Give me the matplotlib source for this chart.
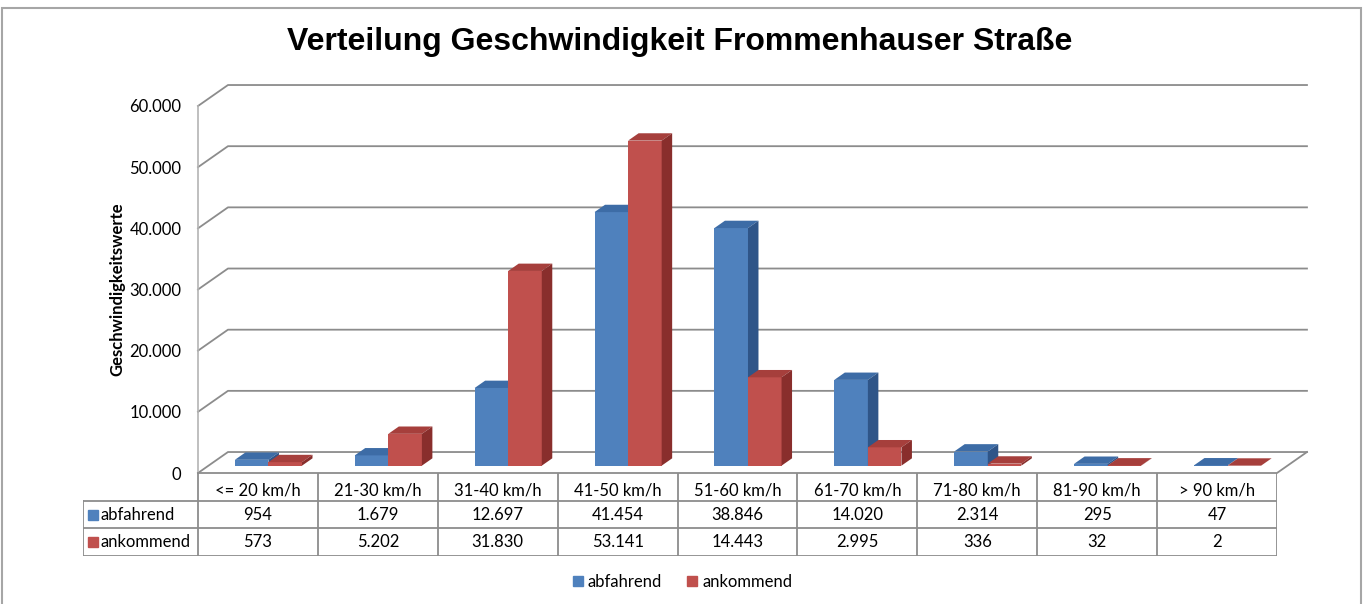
import numpy as np
import matplotlib.pyplot as plt
from matplotlib.patches import Polygon, Rectangle
from matplotlib.lines import Line2D

categories = ['<= 20 km/h', '21-30 km/h', '31-40 km/h', '41-50 km/h', '51-60 km/h',
              '61-70 km/h', '71-80 km/h', '81-90 km/h', '> 90 km/h']
abfahrend = [954, 1679, 12697, 41454, 38846, 14020, 2314, 295, 47]
ankommend = [573, 5202, 31830, 53141, 14443, 2995, 336, 32, 2]
series_names = ['abfahrend', 'ankommend']
yticks = [0, 10000, 20000, 30000, 40000, 50000, 60000]

title = 'Verteilung Geschwindigkeit Frommenhauser Straße'
ylabel = 'Geschwindigkeitswerte'

# farben: vorne, oben, seite
blue = ('#4F81BD', '#3D6CA6', '#2F5588')
red = ('#C0504D', '#A63F3C', '#892E2C')
grid = '#8c8c8c'
txt_font = 'Lato'
fs = 12


def fmt(v):
    return f'{v:,}'.replace(',', '.')


W, H = 1367, 604
fig = plt.figure(figsize=(W / 100, H / 100), dpi=100)

# rahmen um das ganze diagramm
fig.patches.append(Rectangle((2 / W, -0.05), 1359 / W, 1.05 - 8 / H, transform=fig.transFigure,
                             fill=False, edgecolor='#a6a6a6', lw=1.5))

fig.text(680 / W, 1 - 42 / H, title, ha='center', va='center', fontsize=23,
         fontweight='bold', family='Liberation Sans')

ax = fig.add_axes([198 / W, 1 - 473 / H, 1079 / W, 367 / H])
ax.set_xlim(0, len(categories))
ax.set_ylim(0, 60000)
for s in ax.spines.values():
    s.set_visible(False)
ax.set_xticks([])
ax.set_yticks(yticks)
ax.set_yticklabels([fmt(v) for v in yticks], family=txt_font, fontsize=fs)
ax.tick_params(axis='y', length=0, pad=12)
fig.text(117 / W, 1 - 289 / H, ylabel, rotation=90, ha='center', va='center',
         fontsize=12, fontweight='bold', family=txt_font)

# 3D-Tiefe in Datenkoordinaten
n = len(categories)
DX, DY = 0.25, 3430

# rückwand + gitterlinien
for v in yticks:
    ax.plot([0, DX, n + DX], [v, v + DY, v + DY], color=grid, lw=1.3, clip_on=False, zorder=1)
ax.plot([0, 0], [0, 60000], color='#b4b4b4', lw=1.2, clip_on=False, zorder=1)
ax.plot([0, n, n + DX], [0, 0, DY], color=grid, lw=1.3, clip_on=False, zorder=1)

d0, d1 = 0.35, 0.70
bw = 0.28


def bar3d(x0, v, cols, z):
    ox, oy = d0 * DX, d0 * DY
    ddx, ddy = (d1 - d0) * DX, (d1 - d0) * DY
    ax.bar(x0 + ox, v, bw, bottom=oy, align='edge', color=cols[0], zorder=z,
           clip_on=False, lw=0)
    top = [(x0 + ox, oy + v), (x0 + ox + bw, oy + v),
           (x0 + ox + bw + ddx, oy + v + ddy), (x0 + ox + ddx, oy + v + ddy)]
    side = [(x0 + ox + bw, oy), (x0 + ox + bw, oy + v),
            (x0 + ox + bw + ddx, oy + v + ddy), (x0 + ox + bw + ddx, oy + ddy)]
    ax.add_patch(Polygon(top, closed=True, color=cols[1], zorder=z, clip_on=False, lw=0))
    ax.add_patch(Polygon(side, closed=True, color=cols[2], zorder=z, clip_on=False, lw=0))


for i in range(n):
    xc = i + 0.5
    bar3d(xc - bw, abfahrend[i], blue, 3 + 2 * i)
    bar3d(xc, ankommend[i], red, 4 + 2 * i)

# datentabelle
left_w = 115 / (1079 / n)
tab = fig.add_axes([83 / W, 1 - 556 / H, (1277 - 83) / W, 83 / H])
tab.set_xlim(-left_w, n)
tab.set_ylim(83, 0)
tab.axis('off')
row_y = [0, 28, 55, 83]
lc = '#8c8c8c'
tab.plot([0, 0], [row_y[0], row_y[3]], color=lc, lw=1.3)
for i in range(1, n + 1):
    tab.plot([i, i], [row_y[0], row_y[3]], color=lc, lw=1.3)
tab.plot([-left_w, -left_w], [row_y[1], row_y[3]], color=lc, lw=1.3)
for y in row_y[1:]:
    tab.plot([-left_w, n], [y, y], color=lc, lw=1.3)

for i, c in enumerate(categories):
    tab.text(i + 0.5, (row_y[0] + row_y[1]) / 2 + 4, c, ha='center', va='center',
             fontsize=fs, family=txt_font)
for r, (name, vals, cols) in enumerate(zip(series_names, [abfahrend, ankommend], [blue, red])):
    yc = (row_y[r + 1] + row_y[r + 2]) / 2
    for i, v in enumerate(vals):
        tab.text(i + 0.5, yc, fmt(v), ha='center', va='center', fontsize=fs, family=txt_font)
    tab.plot([-left_w + 0.08], [yc], marker='s', ms=7, color=cols[0], ls='none')
    tab.text(-left_w + 0.15, yc, name, ha='left', va='center', fontsize=fs, family=txt_font)

handles = [Line2D([], [], marker='s', ms=7, color=c[0], ls='none') for c in (blue, red)]
fig.legend(handles, series_names, loc='center', bbox_to_anchor=(680 / W, 1 - 582 / H), ncol=2,
           frameon=False, prop={'family': txt_font, 'size': fs}, handletextpad=0.0,
           columnspacing=1.2, handlelength=1.2)

fig.savefig('out.png', dpi=100)
